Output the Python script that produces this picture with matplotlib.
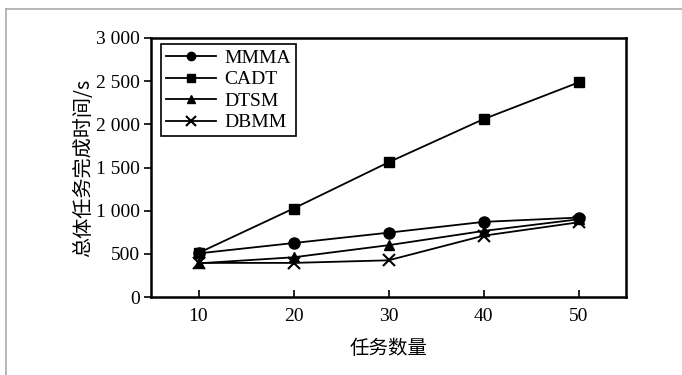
import numpy as np
import matplotlib
matplotlib.use('Agg')
import matplotlib.pyplot as plt
from matplotlib.lines import Line2D
from matplotlib.ticker import FuncFormatter

# data
tasks = [10, 20, 30, 40, 50]
mmma = [505, 625, 745, 870, 920]
cadt = [510, 1025, 1560, 2060, 2485]
dtsm = [390, 460, 600, 765, 900]
dbmm = [395, 395, 425, 710, 865]

serif = ['Liberation Serif', 'DejaVu Serif']
cjk = ['Noto Sans CJK SC', 'DejaVu Sans']

plt.rcParams['font.family'] = serif

fig = plt.figure(figsize=(6.82, 3.75), dpi=100)
ax = fig.add_axes([151 / 682, 1 - 297 / 375, (626 - 151) / 682, (297 - 38) / 375])

ax.plot(tasks, mmma, '-o', color='black', lw=1.3, ms=8, label='MMMA')
ax.plot(tasks, cadt, '-s', color='black', lw=1.3, ms=7, label='CADT')
ax.plot(tasks, dtsm, '-^', color='black', lw=1.3, ms=7, label='DTSM')
ax.plot(tasks, dbmm, '-x', color='black', lw=1.3, ms=9, mew=1.5, label='DBMM')

ax.set_xlim(5, 55)
ax.set_ylim(0, 3000)
ax.set_xticks(tasks)
ax.set_yticks(np.arange(0, 3001, 500))
ax.yaxis.set_major_formatter(FuncFormatter(lambda v, p: f'{int(v):,}'.replace(',', ' ')))

ax.tick_params(axis='x', direction='in', length=5, width=1.2, labelsize=14, pad=8)
ax.tick_params(axis='y', direction='out', length=5, width=1.2, labelsize=14, pad=3)
for s in ax.spines.values():
    s.set_linewidth(1.8)

ax.set_xlabel('任务数量', family=cjk, fontsize=14)
ax.set_ylabel('总体任务完成时间/s', family=cjk, fontsize=14.5)
ax.xaxis.set_label_coords(0.5, -41 / 259, transform=ax.transAxes)
ax.yaxis.set_label_coords(-57 / 475, 0.5, transform=ax.transAxes)

leg = ax.legend(loc='upper left', bbox_to_anchor=(0.021, 0.975), fontsize=14,
                frameon=True, fancybox=False, edgecolor='black', framealpha=1,
                handlelength=2.6, borderpad=0.25, labelspacing=0.2, handletextpad=0.4,
                borderaxespad=0, markerscale=0.75)
leg.get_frame().set_linewidth(1.2)

# light grey page frame
fig.add_artist(Line2D([6 / 682, 1], [1 - 9 / 375, 1 - 9 / 375], color='#aaaaaa', lw=1.2))
fig.add_artist(Line2D([6 / 682, 6 / 682], [0, 1 - 9 / 375], color='#aaaaaa', lw=1.2))

fig.savefig('out.png', dpi=100)
